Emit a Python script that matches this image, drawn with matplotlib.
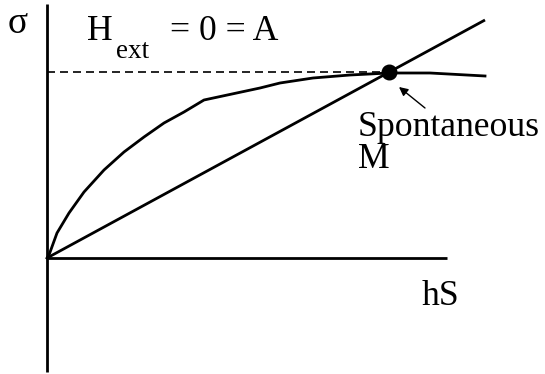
import matplotlib
matplotlib.use("Agg")
import matplotlib.pyplot as plt

# Magnetisation curve sigma(hS) and the straight line through the origin
curve_hs = [0.0, 0.02, 0.10, 0.22, 0.37, 0.57, 0.77, 0.97, 1.17, 1.37, 1.57,
            1.85, 2.13, 2.33, 2.66, 3.03, 3.42, 3.83, 4.38]
curve_sigma = [0.0, 0.03, 0.25, 0.45, 0.66, 0.88, 1.06, 1.21, 1.35, 1.46, 1.58,
               1.64, 1.70, 1.75, 1.80, 1.83, 1.85, 1.85, 1.82]
line_hs = [0.0, 4.38]
line_sigma = [0.0, 2.38]
spont_hs = 3.42
spont_sigma = 1.86

axis_x = [0.0, 4.0]
axis_y = [-1.14, 2.54]

fig = plt.figure(figsize=(5.45, 3.74), dpi=100)
ax = fig.add_axes([0, 0, 1, 1])
ax.set_xlim(-0.47, 4.98)
ax.set_ylim(-1.16, 2.58)
ax.axis("off")

lw = 2.0
# coordinate axes
ax.plot([0, 0], axis_y, color="black", lw=lw, solid_capstyle="butt")
ax.plot(axis_x, [0, 0], color="black", lw=lw, solid_capstyle="butt")

# curves
ax.plot(curve_hs, curve_sigma, color="black", lw=lw, solid_joinstyle="round")
ax.plot(line_hs, line_sigma, color="black", lw=lw, solid_capstyle="butt")

# dashed level of the spontaneous value
ax.plot([0, spont_hs], [spont_sigma, spont_sigma], color="black", lw=1.2,
        dashes=(4.8, 3.0))
ax.plot([spont_hs], [spont_sigma], "o", color="black", markersize=10.5)

serif = ["Liberation Serif", "DejaVu Serif"]
fs = 25.7
ax.text(-0.39, 2.25, "σ", family=serif, fontsize=27, ha="left", va="baseline")
ax.text(0.40, 2.18, "H", family=serif, fontsize=fs, ha="left", va="baseline")
ax.text(0.69, 2.00, "ext", family=serif, fontsize=19.5, ha="left", va="baseline")
ax.text(1.23, 2.18, "= 0 = A", family=serif, fontsize=fs, ha="left", va="baseline")
ax.text(3.11, 1.22, "Spontaneous", family=serif, fontsize=fs, ha="left", va="baseline")
ax.text(3.11, 0.90, "M", family=serif, fontsize=fs, ha="left", va="baseline")
ax.text(3.75, -0.47, "hS", family=serif, fontsize=fs, ha="left", va="baseline")

ax.annotate("", xy=(3.52, 1.71), xytext=(3.78, 1.50),
            arrowprops=dict(arrowstyle="-|>", color="black", lw=1.0,
                            mutation_scale=13, shrinkA=0, shrinkB=0))

fig.savefig("out.png", dpi=100)
